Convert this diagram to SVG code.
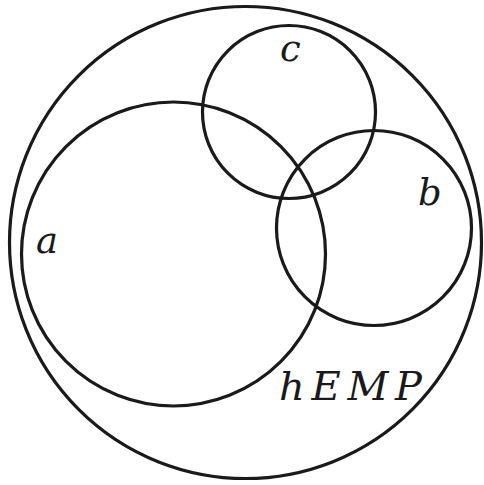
<svg xmlns="http://www.w3.org/2000/svg" width="484" height="485" viewBox="0 0 484 485">
<style>
.set{fill:none;stroke:#1a1a1a;stroke-width:3.2}
.lbl{font-family:"DejaVu Serif","Liberation Serif",serif;font-style:italic;font-size:37px;fill:#1a1a1a}
</style>
<rect width="484" height="485" fill="#fff"/>
<g id="hEMP"><circle class="set" cx="245.5" cy="242.5" r="236"/><text class="lbl" x="279" y="400" style="font-size:40px" textLength="143" lengthAdjust="spacing">hEMP</text></g>
<g id="a"><circle class="set" cx="173.5" cy="254" r="152"/><text class="lbl" x="36" y="253">a</text></g>
<g id="c"><circle class="set" cx="289" cy="112" r="86.5"/><text class="lbl" x="280" y="61">c</text></g>
<g id="b"><circle class="set" cx="374" cy="228" r="97.5"/><text class="lbl" x="418" y="205">b</text></g>
<g id="connectors"></g>
</svg>
